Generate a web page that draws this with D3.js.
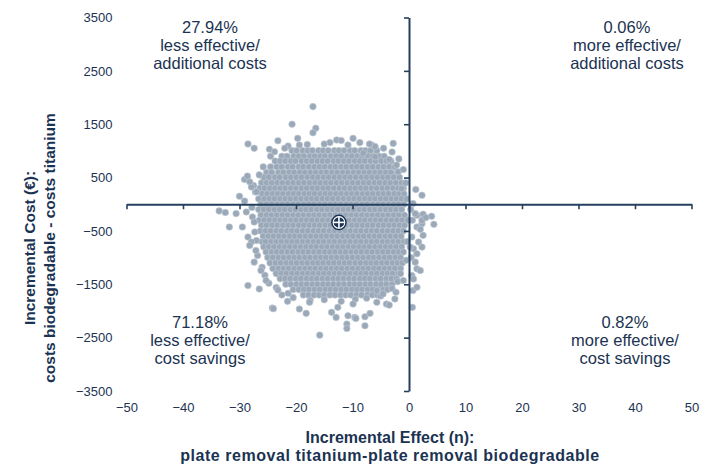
<!DOCTYPE html>
<html>
<head>
<meta charset="utf-8">
<script src="https://cdn.jsdelivr.net/npm/d3@7"></script>
<style>
  html, body { margin: 0; padding: 0; background: #fff; }
  svg { display: block; font-family: "Liberation Sans", Arial, sans-serif; }
</style>
</head>
<body>
<svg id="chart" width="705" height="466"></svg>
<script>
// Axis ticks
const xTicks = [-50, -40, -30, -20, -10, 0, 10, 20, 30, 40, 50];
const yTicks = [-3500, -2500, -1500, -500, 500, 1500, 2500, 3500];

// Quadrant shares of the bootstrap replicates
const quadrantShares = ["27.94%", "0.06%", "71.18%", "0.82%"];
const quadrantNames = [
  ["less effective/", "additional costs"],
  ["more effective/", "additional costs"],
  ["less effective/", "cost savings"],
  ["more effective/", "cost savings"]
];

// Mean incremental effect / cost
const meanPoint = [-12.4, -340];

// Dense body of the bootstrap cloud: [incremental cost, [incremental effects...]]
const coreRows = [
  [1005, [-20.7,-19.9,-18.8,-17.9,-17.1,-16.0,-15.2,-14.3,-13.2,-12.4,-11.5,-10.4,-9.6,-8.5,-7.7,-6.8,-5.7]],
  [900, [-22.5,-21.6,-20.4,-19.5,-18.6,-17.5,-16.7,-15.7,-14.9,-13.8,-12.9,-12.0,-10.9,-10.1,-9.1,-8.3,-7.2,-6.4,-5.3,-4.4]],
  [810, [-23.7,-22.8,-21.9,-20.9,-20.1,-19.0,-18.1,-17.2,-16.2,-15.3,-14.4,-13.3,-12.5,-11.5,-10.6,-9.6,-8.7,-7.8,-6.8,-5.9,-4.9,-4.0,-3.2]],
  [700, [-24.5,-23.4,-22.5,-21.4,-20.6,-19.5,-18.7,-17.7,-16.7,-15.8,-14.9,-13.9,-13.0,-12.0,-11.1,-10.1,-9.2,-8.3,-7.3,-6.4,-5.4,-4.5,-3.5,-2.5]],
  [595, [-25.2,-24.3,-23.1,-22.2,-21.2,-20.3,-19.3,-18.4,-17.4,-16.5,-15.5,-14.6,-13.6,-12.7,-11.7,-10.8,-9.8,-8.9,-7.9,-7.0,-6.0,-5.1,-4.1,-3.2,-2.1]],
  [505, [-25.7,-24.8,-23.7,-22.9,-21.8,-20.9,-19.9,-19.0,-18.0,-17.0,-16.1,-15.1,-14.2,-13.2,-12.3,-11.3,-10.4,-9.4,-8.4,-7.5,-6.5,-5.6,-4.6,-3.7,-2.7,-1.7]],
  [400, [-26.1,-25.2,-24.3,-23.3,-22.4,-21.4,-20.5,-19.5,-18.6,-17.6,-16.6,-15.7,-14.7,-13.8,-12.8,-11.9,-10.9,-10.0,-9.0,-8.0,-7.1,-6.1,-5.2,-4.2,-3.3,-2.3,-1.3]],
  [300, [-26.4,-25.6,-24.6,-23.7,-22.8,-21.9,-20.9,-20.0,-19.0,-18.1,-17.1,-16.2,-15.2,-14.3,-13.3,-12.3,-11.4,-10.4,-9.5,-8.5,-7.6,-6.6,-5.7,-4.7,-3.8,-2.8,-1.9,-1.0]],
  [195, [-26.0,-25.1,-24.1,-23.2,-22.3,-21.3,-20.4,-19.5,-18.5,-17.6,-16.7,-15.7,-14.8,-13.9,-12.9,-12.0,-11.0,-10.1,-9.2,-8.2,-7.3,-6.4,-5.4,-4.5,-3.6,-2.6,-1.7,-0.9]],
  [100, [-26.6,-25.6,-24.7,-23.8,-22.8,-21.9,-21.0,-20.0,-19.1,-18.1,-17.2,-16.3,-15.3,-14.4,-13.5,-12.5,-11.6,-10.6,-9.7,-8.8,-7.8,-6.9,-6.0,-5.0,-4.1,-3.1,-2.2,-1.3]],
  [0, [-26.2,-25.2,-24.3,-23.3,-22.4,-21.5,-20.5,-19.6,-18.6,-17.7,-16.8,-15.8,-14.9,-13.9,-13.0,-12.1,-11.1,-10.2,-9.3,-8.3,-7.4,-6.4,-5.5,-4.6,-3.6,-2.7,-1.8,-0.9]],
  [-100, [-26.6,-25.7,-24.8,-23.8,-22.9,-22.0,-21.0,-20.1,-19.1,-18.2,-17.3,-16.3,-15.4,-14.4,-13.5,-12.6,-11.6,-10.7,-9.8,-8.8,-7.9,-6.9,-6.0,-5.1,-4.1,-3.2,-2.3,-1.3]],
  [-205, [-26.2,-25.2,-24.3,-23.4,-22.4,-21.5,-20.5,-19.6,-18.7,-17.7,-16.8,-15.9,-14.9,-14.0,-13.0,-12.1,-11.2,-10.2,-9.3,-8.3,-7.4,-6.5,-5.5,-4.6,-3.7,-2.7,-1.8,-0.8]],
  [-300, [-26.5,-25.6,-24.7,-23.7,-22.8,-21.9,-20.9,-20.0,-19.0,-18.1,-17.2,-16.2,-15.3,-14.3,-13.4,-12.5,-11.5,-10.6,-9.6,-8.7,-7.8,-6.8,-5.9,-5.0,-4.0,-3.1,-2.1,-1.2]],
  [-395, [-26.1,-25.2,-24.2,-23.3,-22.3,-21.4,-20.5,-19.5,-18.6,-17.6,-16.7,-15.8,-14.8,-13.9,-12.9,-12.0,-11.1,-10.1,-9.2,-8.2,-7.3,-6.4,-5.4,-4.5,-3.5,-2.6,-1.7,-0.8]],
  [-500, [-26.3,-25.4,-24.5,-23.5,-22.6,-21.6,-20.7,-19.8,-18.8,-17.9,-16.9,-16.0,-15.1,-14.1,-13.2,-12.2,-11.3,-10.4,-9.4,-8.5,-7.5,-6.6,-5.7,-4.7,-3.8,-2.8,-1.9,-1.0]],
  [-600, [-25.8,-24.9,-24.0,-23.0,-22.1,-21.1,-20.2,-19.3,-18.3,-17.4,-16.4,-15.5,-14.6,-13.6,-12.7,-11.7,-10.8,-9.9,-8.9,-8.0,-7.0,-6.1,-5.2,-4.2,-3.3,-2.3,-1.4]],
  [-705, [-26.0,-25.4,-24.4,-23.5,-22.6,-21.6,-20.7,-19.8,-18.8,-17.9,-16.9,-16.0,-15.1,-14.1,-13.2,-12.2,-11.3,-10.4,-9.4,-8.5,-7.5,-6.6,-5.7,-4.7,-3.8,-2.8,-1.9,-0.9]],
  [-800, [-25.7,-24.8,-23.9,-22.9,-22.0,-21.1,-20.1,-19.2,-18.2,-17.3,-16.4,-15.4,-14.5,-13.5,-12.6,-11.7,-10.7,-9.8,-8.8,-7.9,-7.0,-6.0,-5.1,-4.1,-3.2,-2.3,-1.3]],
  [-895, [-25.3,-24.3,-23.4,-22.5,-21.5,-20.6,-19.6,-18.7,-17.8,-16.8,-15.9,-14.9,-14.0,-13.1,-12.1,-11.2,-10.2,-9.3,-8.4,-7.4,-6.5,-5.5,-4.6,-3.7,-2.7,-1.8,-1.0]],
  [-1000, [-25.0,-24.1,-23.1,-22.2,-21.2,-20.3,-19.4,-18.4,-17.5,-16.5,-15.6,-14.7,-13.7,-12.8,-11.8,-10.9,-10.0,-9.0,-8.1,-7.1,-6.2,-5.3,-4.3,-3.4,-2.4,-1.5]],
  [-1100, [-24.6,-23.6,-22.7,-21.7,-20.8,-19.9,-18.9,-18.0,-17.0,-16.1,-15.2,-14.2,-13.3,-12.3,-11.4,-10.5,-9.5,-8.6,-7.6,-6.7,-5.8,-4.8,-3.9,-2.9,-2.0,-1.2]],
  [-1205, [-24.1,-23.1,-22.2,-21.3,-20.3,-19.4,-18.4,-17.5,-16.6,-15.6,-14.7,-13.7,-12.8,-11.9,-10.9,-10.0,-9.0,-8.1,-7.2,-6.2,-5.3,-4.3,-3.4,-2.5,-1.5]],
  [-1300, [-23.5,-22.6,-21.7,-20.7,-19.8,-18.8,-17.9,-17.0,-16.0,-15.1,-14.1,-13.2,-12.3,-11.3,-10.4,-9.4,-8.5,-7.6,-6.6,-5.7,-4.7,-3.8,-2.9,-1.9]],
  [-1395, [-22.8,-21.9,-21.0,-20.0,-19.1,-18.1,-17.2,-16.3,-15.3,-14.4,-13.4,-12.5,-11.6,-10.6,-9.7,-8.7,-7.8,-6.9,-5.9,-5.0,-4.0,-3.1,-2.2]],
  [-1500, [-21.8,-20.9,-19.9,-19.0,-18.1,-17.1,-16.2,-15.2,-14.3,-13.4,-12.4,-11.5,-10.5,-9.6,-8.7,-7.7,-6.8,-5.8,-4.9,-4.0,-3.0]],
  [-1600, [-20.5,-19.5,-18.6,-17.7,-16.7,-15.8,-14.8,-13.9,-13.0,-12.0,-11.1,-10.1,-9.2,-8.3,-7.3,-6.4,-5.4,-4.5,-3.8]],
  [-1700, [-18.7,-17.8,-16.8,-15.9,-15.0,-14.0,-13.1,-12.1,-11.2,-10.3,-9.3,-8.4,-7.4,-6.5,-5.6]]
];

// Scattered replicates around the body: [incremental effect, incremental cost]
const fringePoints = [
  [-17.0,1830],[-20.7,1500],[-16.5,1425],[-17.0,1340],[-19.7,1235],[-23.2,1190],[-28.5,1130],
  [-27.4,1050],[-24.7,1030],[-23.8,985],[-21.4,1090],[-19.4,1110],[-12.8,1205],[-12.0,1195],
  [-9.9,1235],[-14.0,1155],[-10.8,1110],[-8.7,1155],[-6.6,1110],[-6.0,1080],[-2.8,1140],
  [-8.1,955],[-6.0,890],[-3.5,840],[-2.2,735],[-1.9,610],[-1.3,295],
  [-15.0,1130],[-18.0,1120],[-22.0,1050],[-24.5,900],[-25.8,700],[-26.5,550],
  [-7.0,1130],[-4.5,1050],[-3.0,980],[-1.8,850],[-1.0,650],[-0.6,400],[-0.4,100],
  [-0.2,-300],[-0.3,-700],[-0.5,-1050],[-1.5,-1300],[-2.0,-1450],[-3.0,-1580],
  [-5.0,-1720],[-7.5,-1760],[-9.5,-1780],[-12.0,-1820],[-15.0,-1790],[-17.5,-1800],
  [-20.5,-1750],[-22.5,-1700],[-23.5,-1560],[-24.8,-1480],[-25.5,-1330],[-26.0,-1180],
  [-26.8,-960],[-27.0,-680],[-27.3,-520],[-27.8,-60],[-27.2,230],[-27.5,350],
  [1.2,277],[2.3,169],[0.7,15],
  [1.4,-207],[2.5,-188],[4.0,-226],[4.4,-376],[2.3,-364],[1.4,-426],[2.5,-583],[1.7,-709],
  [2.3,-803],[0.8,-834],[1.4,-928],[1.1,-1085],[1.4,-1211],[0.5,-1336],[2.0,-1242],
  [0.7,-1618],[1.4,-1556],[0.6,-1932],[0.2,-803],[0.5,-615],[1.1,-175],[2.3,-301],
  [2.0,-470],[0.3,-100],[0.6,-300],[0.4,-1000],[0.8,-1400],[3.0,-250],
  [-30.0,150],[-29.1,60],[-33.6,-125],[-32.5,-155],[-30.6,-175],[-28.8,-145],[-31.8,-427],
  [-29.5,-427],[-27.9,325],[-27.0,232],[-27.7,-238],[-27.4,-333],[-29.1,465],[-28.2,420],
  [-28.6,527],[-28.5,-615],[-27.9,-709],[-28.2,-772],[-27.1,-866],[-28.5,-1524],[-26.5,-1587],
  [-27.4,-1085],[-26.2,-1242],[-25.3,-1430],[-24.2,-1945],[-23.2,-1606],[-21.4,-1669],
  [-19.4,-1964],[-18.2,-2045],[-17.6,-1838],[-15.8,-2453],[-13.7,-2026],[-12.9,-2121],
  [-12.6,-1932],[-10.8,-2089],[-9.6,-2121],[-11.0,-2246],[-11.0,-2328],[-9.9,-1870],
  [-7.8,-2108],[-7.8,-2277],[-6.9,-2045],[-5.7,-1838],[-4.0,-1870],[-2.3,-1650],
  [-2.5,-1775],[-1.0,-1430],[-5.7,-1618],[-4.6,-1681],[-24.0,-1957],[-21.5,-1820],
  [-9.4,-2140],[-3.5,-1890]
];

const ink = "#1b3352";
const axisInk = "#25405f";
const dotFill = "#9aa8b8";
const dotEdge = "#c3ccd6";
const font = "'Liberation Sans', Arial, sans-serif";

const svg = d3.select("#chart");

const x = d3.scaleLinear().domain([-50, 50]).range([126.5, 691.5]);
const y = d3.scaleLinear().domain([-3500, 3500]).range([391, 17.5]);

// Replicate cloud
const points = coreRows.flatMap(([cost, effects]) => effects.map(e => [e, cost])).concat(fringePoints);

svg.append("g")
  .selectAll("circle")
  .data(points)
  .join("circle")
  .attr("cx", d => x(d[0]))
  .attr("cy", d => y(d[1]))
  .attr("r", 3.3)
  .attr("fill", dotFill)
  .attr("stroke", dotEdge)
  .attr("stroke-width", 0.6);

// Axes crossing at the origin
const xAxis = svg.append("g")
  .attr("transform", `translate(0,${y(0)})`)
  .call(d3.axisBottom(x).tickValues(xTicks).tickSize(5).tickSizeOuter(0).tickFormat(""));
const yAxis = svg.append("g")
  .attr("transform", `translate(${x(0)},0)`)
  .call(d3.axisLeft(y).tickValues(yTicks).tickSize(5).tickSizeOuter(0).tickFormat(""));
[xAxis, yAxis].forEach(g => {
  g.select(".domain").attr("stroke", axisInk).attr("stroke-width", 2);
  g.selectAll(".tick line").attr("stroke", axisInk).attr("stroke-width", 1.6);
});

// Tick labels along the outer edges of the plane
const xLabels = svg.append("g")
  .attr("transform", `translate(0,${y(-3500) + 8})`)
  .call(d3.axisBottom(x).tickValues(xTicks).tickSize(0).tickPadding(4).tickFormat(d3.format("d")));
const yLabels = svg.append("g")
  .attr("transform", `translate(${x(-50) - 10},0)`)
  .call(d3.axisLeft(y).tickValues(yTicks).tickSize(0).tickPadding(4).tickFormat(d3.format("d")));
[xLabels, yLabels].forEach(g => {
  g.select(".domain").remove();
  g.selectAll("text")
    .attr("fill", ink)
    .style("font-family", font)
    .style("font-size", "13px");
});

// Mean marker
const mean = svg.append("g").attr("transform", `translate(${x(meanPoint[0])},${y(meanPoint[1])})`);
mean.append("circle").attr("r", 7.8).attr("fill", ink);
mean.append("circle").attr("r", 5.8).attr("fill", "none").attr("stroke", "#fff").attr("stroke-width", 1.1);
mean.append("line").attr("x1", -5.8).attr("x2", 5.8).attr("stroke", "#fff").attr("stroke-width", 1.6);
mean.append("line").attr("y1", -5.8).attr("y2", 5.8).attr("stroke", "#fff").attr("stroke-width", 1.6);

// Quadrant annotations
const quadrantAnchors = [[210, 27], [627, 27], [200, 322], [625, 322]];
quadrantShares.forEach((share, i) => {
  [share, ...quadrantNames[i]].forEach((line, j) => {
    svg.append("text")
      .attr("x", quadrantAnchors[i][0])
      .attr("y", quadrantAnchors[i][1] + j * 18)
      .attr("dy", "0.35em")
      .attr("text-anchor", "middle")
      .attr("fill", ink)
      .style("font-size", "16.5px")
      .text(line);
  });
});

// Axis titles
["Incremental Effect (n):", "plate removal titanium-plate removal biodegradable"].forEach((line, j) => {
  svg.append("text")
    .attr("x", 390)
    .attr("y", 437 + j * 18)
    .attr("dy", "0.35em")
    .attr("text-anchor", "middle")
    .attr("fill", ink)
    .style("font-weight", "bold")
    .style("font-size", "16px")
    .style("letter-spacing", j === 1 ? "0.55px" : "0px")
    .text(line);
});

["Incremental Cost (\u20AC):", "costs biodegradable - costs titanium"].forEach((line, j) => {
  svg.append("text")
    .attr("transform", `translate(${30 + j * 19.5},248) rotate(-90)`)
    .attr("dy", "0.35em")
    .attr("text-anchor", "middle")
    .attr("fill", ink)
    .style("font-weight", "bold")
    .style("font-size", "15.5px")
    .text(line);
});
</script>
</body>
</html>
